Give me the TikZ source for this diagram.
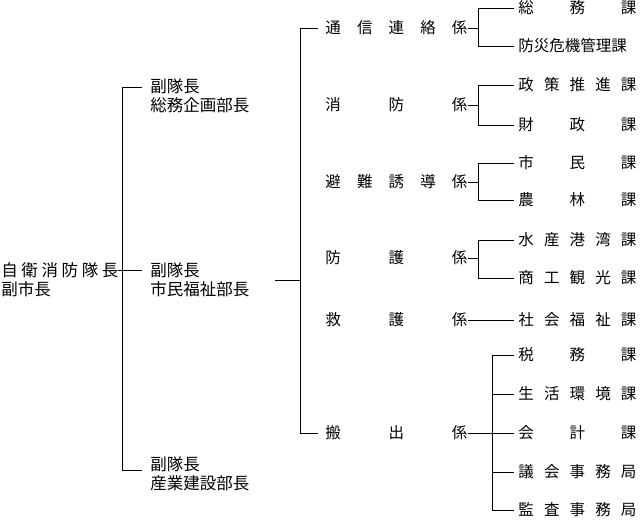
\documentclass[tikz,border=0pt]{standalone}
\usepackage{fontspec}
\newfontfamily\jp{Noto Sans CJK JP}
\newcommand{\spread}[2]{\makebox[#1pt][s]{#2}}
\begin{document}
\begin{tikzpicture}[x=1pt,y=-1pt,line width=0.8pt,
   lbl/.style={anchor=west,inner sep=0pt,font=\jp\fontsize{15.5}{19}\selectfont},
   two/.style={lbl,align=left,font=\jp\fontsize{16.5}{19}\selectfont}
   ]
  \useasboundingbox (0,0) rectangle (640,520);

  % -- chief and vice chiefs
  \node[two] at (1,280) (chief) {\spread{117}{自\hfil 衛\hfil 消\hfil 防\hfil 隊\hfil 長}\\副市長};
  \node[two] at (150,96) (v1) {副隊長\\総務企画部長};
  \node[two] at (150,280) (v2) {副隊長\\市民福祉部長};
  \node[two] at (150,474) (v3) {副隊長\\産業建設部長};
  \draw (122,87) -- (142,87);
  \draw (122,87) -- (122,470) -- (142,470);
  \draw (118,270) -- (142,270);

  % -- sections
  \node[lbl] at (325,28) (s1) {\spread{142}{通\hfil 信\hfil 連\hfil 絡\hfil 係}};
  \node[lbl] at (325,105) (s2) {\spread{142}{消\hfil 防\hfil 係}};
  \node[lbl] at (325,182) (s3) {\spread{142}{避\hfil 難\hfil 誘\hfil 導\hfil 係}};
  \node[lbl] at (325,258) (s4) {\spread{142}{防\hfil 護\hfil 係}};
  \node[lbl] at (325,320) (s5) {\spread{142}{救\hfil 護\hfil 係}};
  \node[lbl] at (325,433) (s6) {\spread{142}{搬\hfil 出\hfil 係}};
  \draw (275,280) -- (300,280);
  \draw (318,28) -- (300,28) -- (300,433) -- (318,433);

  % -- divisions
  \node[lbl] at (518,8) (d1) {\spread{118}{総\hfil 務\hfil 課}};
  \node[lbl] at (518,46) (d2) {\spread{118}{防災危機管理課}};
  \node[lbl] at (518,85) (d3) {\spread{118}{政\hfil 策\hfil 推\hfil 進\hfil 課}};
  \node[lbl] at (518,125) (d4) {\spread{118}{財\hfil 政\hfil 課}};
  \node[lbl] at (518,163) (d5) {\spread{118}{市\hfil 民\hfil 課}};
  \node[lbl] at (518,200) (d6) {\spread{118}{農\hfil 林\hfil 課}};
  \node[lbl] at (518,240) (d7) {\spread{118}{水\hfil 産\hfil 港\hfil 湾\hfil 課}};
  \node[lbl] at (518,278) (d8) {\spread{118}{商\hfil 工\hfil 観\hfil 光\hfil 課}};
  \node[lbl] at (518,320) (d9) {\spread{118}{社\hfil 会\hfil 福\hfil 祉\hfil 課}};
  \node[lbl] at (518,355) (d10) {\spread{118}{税\hfil 務\hfil 課}};
  \node[lbl] at (518,394) (d11) {\spread{118}{生\hfil 活\hfil 環\hfil 境\hfil 課}};
  \node[lbl] at (518,433) (d12) {\spread{118}{会\hfil 計\hfil 課}};
  \node[lbl] at (518,472) (d13) {\spread{118}{議\hfil 会\hfil 事\hfil 務\hfil 局}};
  \node[lbl] at (518,510) (d14) {\spread{118}{監\hfil 査\hfil 事\hfil 務\hfil 局}};

  \draw (s1.east) -- (478,28);
  \draw ([xshift=-4]d1.west) -| (478,46) -- ([xshift=-4]d2.west);
  \draw (s2.east) -- (478,105);
  \draw ([xshift=-4]d3.west) -| (478,125) -- ([xshift=-4]d4.west);
  \draw (s3.east) -- (478,182);
  \draw ([xshift=-4]d5.west) -| (478,200) -- ([xshift=-4]d6.west);
  \draw (s4.east) -- (478,258);
  \draw ([xshift=-4]d7.west) -| (478,278) -- ([xshift=-4]d8.west);
  \draw (s5.east) -- ([xshift=-4]d9.west);
  \draw (s6.east) -- (492,433);
  \draw ([xshift=-4]d10.west) -| (492,510) -- ([xshift=-4]d14.west);
  \foreach \d in {d11,d12,d13}
    \draw ([xshift=-26]\d.west) -- ([xshift=-4]\d.west);
\end{tikzpicture}
\end{document}
